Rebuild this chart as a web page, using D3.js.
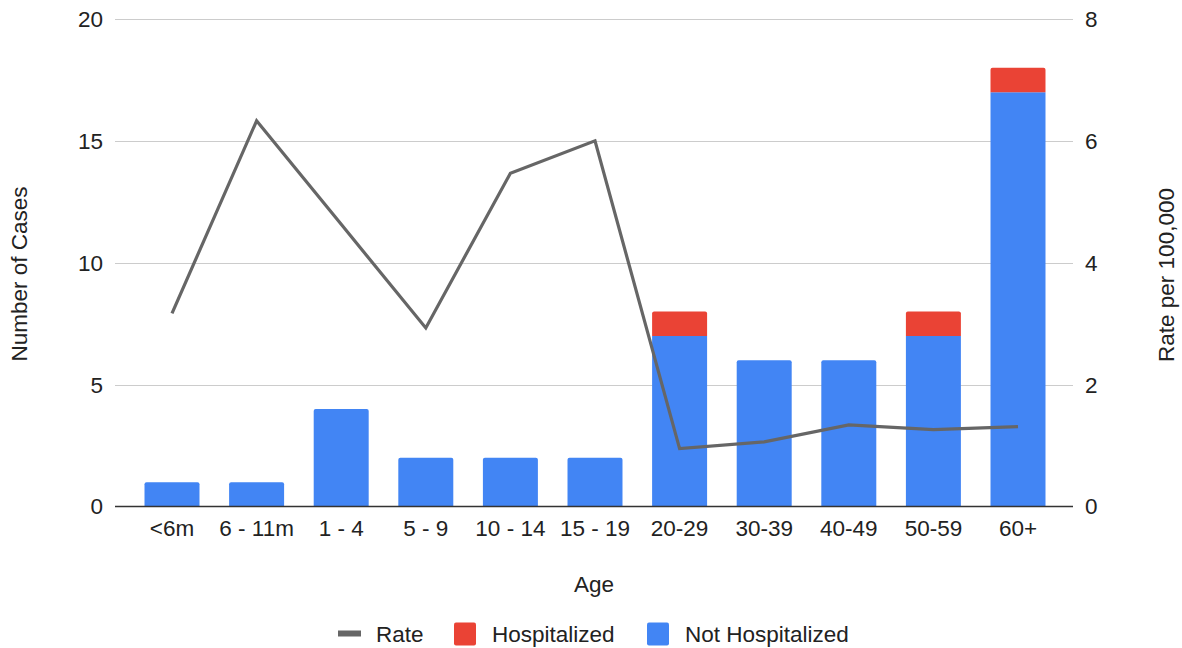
<!DOCTYPE html>
<html>
<head>
<meta charset="utf-8">
<script src="https://cdn.jsdelivr.net/npm/d3@7"></script>
<style>
  html, body { margin: 0; padding: 0; background: #fff; }
  svg text { font-family: "Liberation Sans", Arial, sans-serif; }
</style>
</head>
<body>
<svg id="chart" width="1182" height="648"></svg>
<script>
// Age groups along the x axis
const ageGroups = ["<6m", "6 - 11m", "1 - 4", "5 - 9", "10 - 14", "15 - 19", "20-29", "30-39", "40-49", "50-59", "60+"];
// Case counts (stacked bars)
const notHospitalized = [1, 1, 4, 2, 2, 2, 7, 6, 6, 7, 17];
const hospitalized    = [0, 0, 0, 0, 0, 0, 1, 0, 0, 1, 1];
// Rate per 100,000 (line, right axis)
const rate = [3.17, 6.33, 4.63, 2.93, 5.47, 6.0, 0.95, 1.06, 1.34, 1.26, 1.31];
// Axis ticks
const leftTicks = [0, 5, 10, 15, 20];
const rightTicks = [0, 2, 4, 6, 8];

const colors = { not: "#4285F4", hosp: "#EA4335", rate: "#666666" };
const fontSize = 22.5;
const textColor = "#222222";

const svg = d3.select("#chart");
const plot = { left: 115, right: 1073, top: 19, bottom: 506.5 };

const x = d3.scaleBand()
  .domain(ageGroups)
  .range([129.7, 1060.3])
  .paddingInner(0.35)
  .paddingOuter(0.175);

const yLeft = d3.scaleLinear().domain([0, 20]).range([plot.bottom, plot.top]);
const yRight = d3.scaleLinear().domain([0, 8]).range([plot.bottom, plot.top]);

// Horizontal gridlines
svg.append("g")
  .selectAll("line")
  .data(leftTicks.filter(d => d > 0))
  .join("line")
  .attr("x1", plot.left).attr("x2", plot.right)
  .attr("y1", d => Math.round(yLeft(d)) + 0.5).attr("y2", d => Math.round(yLeft(d)) + 0.5)
  .attr("stroke", "#cccccc").attr("stroke-width", 1);

// Stacked bars
const stacked = ageGroups.map((g, i) => ({ g, not: notHospitalized[i], hosp: hospitalized[i] }));
const series = d3.stack().keys(["not", "hosp"])(stacked);

// Path for a bar with rounded top corners
function barPath(x0, w, yTop, yBot, r) {
  r = Math.min(r, (yBot - yTop));
  return `M${x0},${yBot}V${yTop + r}Q${x0},${yTop} ${x0 + r},${yTop}H${x0 + w - r}Q${x0 + w},${yTop} ${x0 + w},${yTop + r}V${yBot}Z`;
}

const barsG = svg.append("g");
series.forEach(s => {
  barsG.selectAll(null)
    .data(s.map((d, i) => ({ d, i })))
    .join("path")
    .filter(({ d }) => d[1] - d[0] > 0)
    .attr("fill", colors[s.key])
    .attr("d", ({ d, i }) => {
      const isTop = s.key === "hosp" || hospitalized[i] === 0;
      const x0 = x(ageGroups[i]);
      const yT = yLeft(d[1]);
      const yB = yLeft(d[0]);
      return barPath(x0, x.bandwidth(), yT, yB, isTop ? 2 : 0);
    });
});

// Baseline
svg.append("line")
  .attr("x1", plot.left).attr("x2", plot.right)
  .attr("y1", plot.bottom).attr("y2", plot.bottom)
  .attr("stroke", "#333333").attr("stroke-width", 1.5);

// Rate line
const line = d3.line()
  .x((d, i) => x(ageGroups[i]) + x.bandwidth() / 2)
  .y(d => yRight(d));
svg.append("path")
  .datum(rate)
  .attr("d", line)
  .attr("fill", "none")
  .attr("stroke", colors.rate)
  .attr("stroke-width", 3.2)
  .attr("stroke-linejoin", "miter");

// Left axis labels
svg.append("g")
  .selectAll("text")
  .data(leftTicks)
  .join("text")
  .attr("x", 103).attr("y", d => yLeft(d))
  .attr("dy", "0.35em")
  .attr("text-anchor", "end")
  .attr("font-size", fontSize).attr("fill", textColor)
  .text(d => d);

// Right axis labels
svg.append("g")
  .selectAll("text")
  .data(rightTicks)
  .join("text")
  .attr("x", 1085).attr("y", d => yRight(d))
  .attr("dy", "0.35em")
  .attr("text-anchor", "start")
  .attr("font-size", fontSize).attr("fill", textColor)
  .text(d => d);

// Category labels
svg.append("g")
  .selectAll("text")
  .data(ageGroups)
  .join("text")
  .attr("x", d => x(d) + x.bandwidth() / 2)
  .attr("y", 528)
  .attr("dy", "0.35em")
  .attr("text-anchor", "middle")
  .attr("font-size", fontSize).attr("fill", textColor)
  .text(d => d);

// Axis titles
svg.append("text")
  .attr("x", 594).attr("y", 584).attr("dy", "0.35em")
  .attr("text-anchor", "middle").attr("font-size", fontSize).attr("fill", textColor)
  .text("Age");

svg.append("text")
  .attr("transform", "translate(19,274) rotate(-90)")
  .attr("dy", "0.35em")
  .attr("text-anchor", "middle").attr("font-size", fontSize).attr("fill", textColor)
  .text("Number of Cases");

svg.append("text")
  .attr("transform", "translate(1166,275) rotate(-90)")
  .attr("dy", "0.35em")
  .attr("text-anchor", "middle").attr("font-size", fontSize).attr("fill", textColor)
  .text("Rate per 100,000");

// Legend
const legendItems = [
  { label: "Rate", type: "line", color: colors.rate, x: 338 },
  { label: "Hospitalized", type: "rect", color: colors.hosp, x: 454 },
  { label: "Not Hospitalized", type: "rect", color: colors.not, x: 647 }
];
const legend = svg.append("g");
legendItems.forEach(it => {
  if (it.type === "line") {
    legend.append("rect")
      .attr("x", it.x).attr("y", 630.5).attr("width", 23).attr("height", 6)
      .attr("fill", it.color);
  } else {
    legend.append("rect")
      .attr("x", it.x).attr("y", 622.5).attr("width", 22).attr("height", 23)
      .attr("rx", 2)
      .attr("fill", it.color);
  }
  legend.append("text")
    .attr("x", it.x + 38).attr("y", 634).attr("dy", "0.35em")
    .attr("font-size", fontSize).attr("fill", textColor)
    .text(it.label);
});
</script>
</body>
</html>
